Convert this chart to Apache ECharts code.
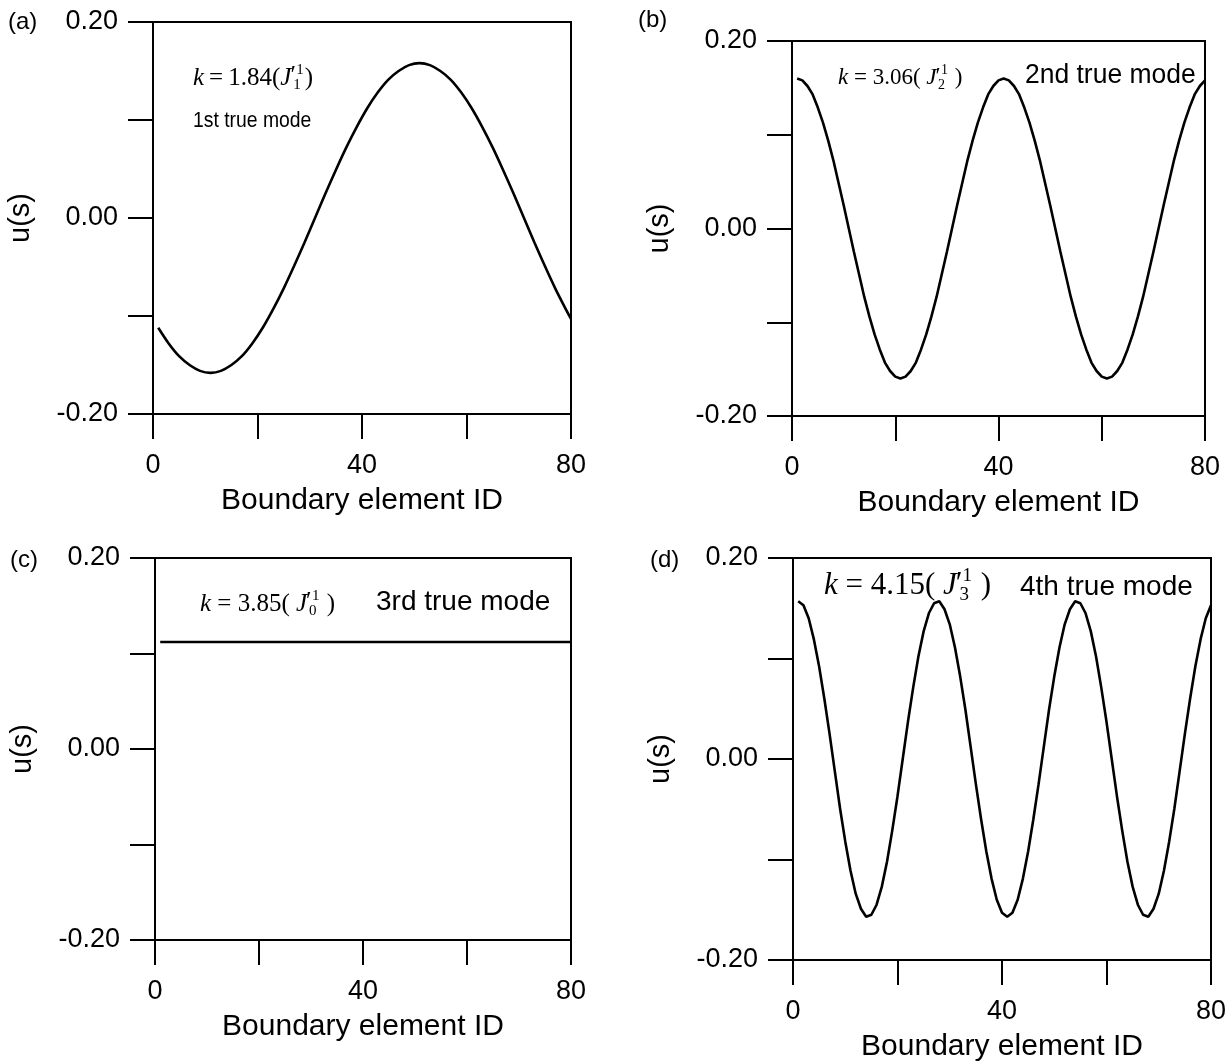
<!DOCTYPE html>
<html>
<head>
<meta charset="utf-8">
<title>Boundary element modes</title>
<script src="https://cdn.jsdelivr.net/npm/echarts@6/dist/echarts.min.js"></script>
<style>
	html, body { margin: 0; padding: 0; background: #fff; }
	#chartContainer { width: 1231px; height: 1063px; }
</style>
</head>
<body>
<div id="chartContainer"></div>
<script>
// every 2nd boundary element (used for the slow curves)
var coarseIds = [1,3,5,7,9,11,13,15,17,19,21,23,25,27,29,31,33,35,37,39,41,
	43,45,47,49,51,53,55,57,59,61,63,65,67,69,71,73,75,77,79,80];

// every boundary element (used for the fast curves)
var elementIds = [1,2,3,4,5,6,7,8,9,10,11,12,13,14,15,16,17,18,19,20,
	21,22,23,24,25,26,27,28,29,30,31,32,33,34,35,36,37,38,39,40,
	41,42,43,44,45,46,47,48,49,50,51,52,53,54,55,56,57,58,59,60,
	61,62,63,64,65,66,67,68,69,70,71,72,73,74,75,76,77,78,79,80];

// (a) 1st true mode, k = 1.84  (on coarseIds)
var mode1Values = [-0.112,-0.128,-0.141,-0.150,-0.156,-0.158,-0.156,-0.150,-0.141,-0.128,-0.112,
	-0.093,-0.072,-0.049,-0.025,0.000,0.025,0.049,0.072,0.093,0.112,
	0.128,0.141,0.150,0.156,0.158,0.156,0.150,0.141,0.128,0.112,
	0.093,0.072,0.049,0.025,0.000,-0.025,-0.049,-0.072,-0.093,-0.103];

// (b) 2nd true mode, k = 3.06  (on elementIds)
var mode2Values = [0.160,0.158,0.152,0.143,0.129,0.113,0.094,0.073,0.049,0.025,
	0.000,-0.025,-0.049,-0.073,-0.094,-0.113,-0.129,-0.143,-0.152,-0.158,
	-0.160,-0.158,-0.152,-0.143,-0.129,-0.113,-0.094,-0.073,-0.049,-0.025,
	0.000,0.025,0.049,0.073,0.094,0.113,0.129,0.143,0.152,0.158,
	0.160,0.158,0.152,0.143,0.129,0.113,0.094,0.073,0.049,0.025,
	0.000,-0.025,-0.049,-0.073,-0.094,-0.113,-0.129,-0.143,-0.152,-0.158,
	-0.160,-0.158,-0.152,-0.143,-0.129,-0.113,-0.094,-0.073,-0.049,-0.025,
	0.000,0.025,0.049,0.073,0.094,0.113,0.129,0.143,0.152,0.158];

// (c) 3rd true mode, k = 3.85, flat  (on coarseIds)
var mode3Values = [0.112,0.112,0.112,0.112,0.112,0.112,0.112,0.112,0.112,0.112,0.112,
	0.112,0.112,0.112,0.112,0.112,0.112,0.112,0.112,0.112,0.112,
	0.112,0.112,0.112,0.112,0.112,0.112,0.112,0.112,0.112,0.112,
	0.112,0.112,0.112,0.112,0.112,0.112,0.112,0.112,0.112,0.112];

// (d) 4th true mode, k = 4.15  (on elementIds)
var mode4Values = [0.157,0.153,0.140,0.119,0.092,0.060,0.025,-0.012,-0.049,-0.082,
	-0.111,-0.134,-0.149,-0.157,-0.155,-0.145,-0.127,-0.102,-0.071,-0.037,
	0.000,0.037,0.071,0.102,0.127,0.145,0.155,0.157,0.149,0.134,
	0.111,0.082,0.049,0.012,-0.025,-0.060,-0.092,-0.119,-0.140,-0.153,
	-0.157,-0.153,-0.140,-0.119,-0.092,-0.060,-0.025,0.012,0.049,0.082,
	0.111,0.134,0.149,0.157,0.155,0.145,0.127,0.102,0.071,0.037,
	0.000,-0.037,-0.071,-0.102,-0.127,-0.145,-0.155,-0.157,-0.149,-0.134,
	-0.111,-0.082,-0.049,-0.012,0.025,0.060,0.092,0.119,0.140,0.153];

var xTickLabels = [0, 40, 80];
var yTickLabels = [-0.2, 0, 0.2];

var modeChart = {
	containerId: "chartContainer",
	sansFont: "'Liberation Sans', Arial, sans-serif",
	serifFont: "'Liberation Serif', 'Times New Roman', serif",
	measureCtx: document.createElement('canvas').getContext('2d'),
	/**
	 * panel boxes in pixels
	 */
	grids: [
		{left: 153, top: 22, width: 418, height: 392},
		{left: 792, top: 41, width: 413, height: 375},
		{left: 155, top: 558, width: 416, height: 382},
		{left: 793, top: 558, width: 418, height: 408}
	],
	toPairs: function(ids, vals) {
		var ret = [];
		for (var i = 0; i < ids.length; i++) {
			ret.push([ids[i], vals[i]]);
		}
		return ret;
	},
	textWidth: function(font, s) {
		modeChart.measureCtx.font = font;
		return modeChart.measureCtx.measureText(s).width;
	},
	piece: function(x, y, s, font) {
		return {
			type: 'text', x: x, y: y,
			style: {text: s, font: font, fill: '#000', verticalAlign: 'middle'}
		};
	},
	/**
	 * math label  k = 1.84(J'_n^1), sub and sup stacked
	 * gaps: [around '=', after '(', before ')']
	 */
	mathText: function(x, y, kValue, sub, size, gaps) {
		var small = Math.round(size * 0.6);
		var italic = 'italic ' + size + 'px ' + modeChart.serifFont;
		var normal = size + 'px ' + modeChart.serifFont;
		var smallFont = small + 'px ' + modeChart.serifFont;
		var parts = [];
		var cx = x;
		var s;
		parts.push(modeChart.piece(cx, y, 'k', italic));
		cx += modeChart.textWidth(italic, 'k');
		s = gaps[0] + '=' + gaps[0] + kValue + '(' + gaps[1];
		parts.push(modeChart.piece(cx, y, s, normal));
		cx += modeChart.textWidth(normal, s);
		parts.push(modeChart.piece(cx, y, 'J', italic));
		cx += modeChart.textWidth(italic, 'J');
		parts.push(modeChart.piece(cx - 1, y - size * 0.05, '\u2032', normal));
		cx += modeChart.textWidth(normal, '\u2032') * 0.7;
		parts.push(modeChart.piece(cx + 1, y - size * 0.32, '1', smallFont));
		parts.push(modeChart.piece(cx - 2, y + size * 0.3, sub, smallFont));
		cx += modeChart.textWidth(smallFont, '1') + 2;
		s = gaps[2] + ')';
		parts.push(modeChart.piece(cx, y, s, normal));
		return {type: 'group', children: parts};
	},
	plainText: function(x, y, txt, size, sx) {
		return {
			type: 'text',
			x: x, y: y,
			scaleX: sx || 1,
			style: {
				text: txt,
				fill: '#000',
				font: size + 'px ' + modeChart.sansFont,
				verticalAlign: 'middle'
			}
		};
	},
	showChart: function() {
		var myChart = echarts.init(document.getElementById(modeChart.containerId), null, {renderer: 'canvas'});
		var xAxes = [], yAxes = [], grids = [], series = [];
		var allIds = [coarseIds, elementIds, coarseIds, elementIds];
		var allValues = [mode1Values, mode2Values, mode3Values, mode4Values];
		for (var i = 0; i < 4; i++) {
			var g = modeChart.grids[i];
			grids.push({
				left: g.left, top: g.top, width: g.width, height: g.height,
				show: true, borderColor: '#000', borderWidth: 2,
				backgroundColor: 'transparent'
			});
			xAxes.push({
				type: 'value', gridIndex: i,
				min: 0, max: 80, interval: 20,
				name: 'Boundary element ID',
				nameLocation: 'middle',
				nameGap: 72,
				nameTextStyle: {fontFamily: modeChart.sansFont, fontSize: 30, color: '#000'},
				axisLine: {show: true, onZero: false, lineStyle: {color: '#000', width: 2}},
				axisTick: {show: true, inside: false, length: 25, lineStyle: {color: '#000', width: 2}},
				axisLabel: {
					margin: 38,
					fontFamily: modeChart.sansFont, fontSize: 27, color: '#000',
					formatter: function(v) {
						return xTickLabels.indexOf(v) >= 0 ? String(v) : '';
					}
				},
				splitLine: {show: false}
			});
			yAxes.push({
				type: 'value', gridIndex: i,
				min: -0.2, max: 0.2, interval: 0.1,
				name: 'u(s)',
				nameLocation: 'middle',
				nameGap: 118,
				nameTextStyle: {fontFamily: modeChart.sansFont, fontSize: 29, color: '#000'},
				axisLine: {show: true, onZero: false, lineStyle: {color: '#000', width: 2}},
				axisTick: {show: true, inside: false, length: 25, lineStyle: {color: '#000', width: 2}},
				axisLabel: {
					margin: 35,
					fontFamily: modeChart.sansFont, fontSize: 27, color: '#000',
					formatter: function(v) {
						for (var j = 0; j < yTickLabels.length; j++) {
							if (Math.abs(v - yTickLabels[j]) < 1e-6) {
								return yTickLabels[j].toFixed(2);
							}
						}
						return '';
					}
				},
				splitLine: {show: false}
			});
			series.push({
				type: 'line',
				xAxisIndex: i, yAxisIndex: i,
				data: modeChart.toPairs(allIds[i], allValues[i]),
				showSymbol: false,
				smooth: i == 0 ? 0.3 : false,
				lineStyle: {color: '#000', width: 2.6},
				silent: true
			});
		}
		var option = {
			animation: false,
			backgroundColor: '#fff',
			grid: grids,
			xAxis: xAxes,
			yAxis: yAxes,
			series: series,
			graphic: [
				// panel letters
				modeChart.plainText(8, 22, '(a)', 24),
				modeChart.plainText(638, 20, '(b)', 24),
				modeChart.plainText(10, 560, '(c)', 24),
				modeChart.plainText(650, 560, '(d)', 24),
				// annotations
				modeChart.mathText(193, 78, '1.84', '1', 25, ['\u2009', '', '']),
				modeChart.plainText(193, 121, '1st true mode', 22, 0.88),
				modeChart.mathText(838, 78, '3.06', '2', 23, [' ', ' ', ' ']),
				modeChart.plainText(1025, 76, '2nd true mode', 27, 0.98),
				modeChart.mathText(200, 604, '3.85', '0', 25, [' ', ' ', ' ']),
				modeChart.plainText(376, 602, '3rd true mode', 28),
				modeChart.mathText(824, 586, '4.15', '3', 31, [' ', ' ', ' ']),
				modeChart.plainText(1020, 587, '4th true mode', 28)
			]
		};
		myChart.setOption(option);
	}
};

modeChart.showChart();
</script>
</body>
</html>
